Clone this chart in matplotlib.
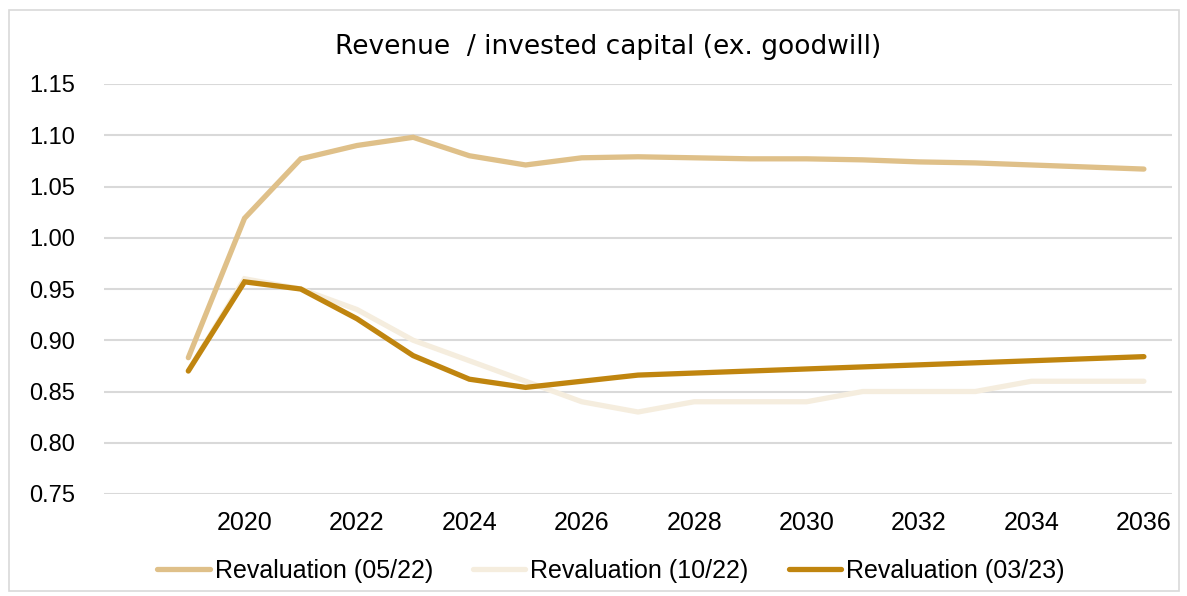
import matplotlib
matplotlib.use("Agg")
import matplotlib.pyplot as plt
from matplotlib.patches import Rectangle

years = list(range(2019, 2037))
reval_0522 = [0.883, 1.019, 1.077, 1.090, 1.098, 1.080, 1.071, 1.078, 1.079, 1.078,
              1.077, 1.077, 1.076, 1.074, 1.073, 1.071, 1.069, 1.067]
reval_1022 = [0.870, 0.960, 0.950, 0.930, 0.900, 0.880, 0.860, 0.840, 0.830, 0.840,
              0.840, 0.840, 0.850, 0.850, 0.850, 0.860, 0.860, 0.860]
reval_0323 = [0.870, 0.957, 0.950, 0.921, 0.885, 0.862, 0.854, 0.860, 0.866, 0.868,
              0.870, 0.872, 0.874, 0.876, 0.878, 0.880, 0.882, 0.884]
series_labels = ["Revaluation (05/22)", "Revaluation (10/22)", "Revaluation (03/23)"]
colors = ["#DFC089", "#F5EDDE", "#C0850F"]
xtick_years = list(range(2020, 2037, 2))
ytick_vals = [0.75, 0.80, 0.85, 0.90, 0.95, 1.00, 1.05, 1.10, 1.15]
title = "Revenue  / invested capital (ex. goodwill)"

W, H = 1187, 596
fig = plt.figure(figsize=(W / 100, H / 100), dpi=100)
ax = fig.add_axes([104 / W, 1 - 494 / H, (1172 - 104) / W, (494 - 84) / H])

for vals, lab, c in zip([reval_0522, reval_1022, reval_0323], series_labels, colors):
    ax.plot(years, vals, color=c, lw=3.8, label=lab, solid_capstyle="round",
            solid_joinstyle="miter", zorder=3)

ax.set_xlim(2017.5, 2036.5)
ax.set_ylim(0.75, 1.15)
ax.set_yticks(ytick_vals)
ax.set_yticklabels([f"{v:.2f}" for v in ytick_vals], fontfamily="Liberation Sans", fontsize=17)
ax.set_xticks(xtick_years)
ax.set_xticklabels([str(y) for y in xtick_years], fontfamily="Liberation Sans", fontsize=18)
ax.tick_params(axis="y", length=0, pad=21, colors="#000000")
ax.tick_params(axis="x", length=0, pad=12, colors="#000000")
ax.grid(axis="y", color="#D9D9D9", lw=1.5, zorder=0)
for s in ax.spines.values():
    s.set_visible(False)

fig.text(608 / W, 1 - 47 / H, title, ha="center", va="center",
         fontfamily="DejaVu Sans", fontsize=19)

leg = fig.legend(loc="center", bbox_to_anchor=(611 / W, 1 - 571 / H), ncol=3,
                 frameon=False, prop={"family": "Liberation Sans", "size": 18},
                 handlelength=2.1, handletextpad=0.2, columnspacing=1.6)

fig.patches.append(Rectangle((9 / W, 1 - 591 / H), (1179 - 9) / W, (591 - 10) / H,
                             transform=fig.transFigure, fill=False,
                             edgecolor="#D9D9D9", lw=1.2))

fig.savefig("out.png", dpi=100)
